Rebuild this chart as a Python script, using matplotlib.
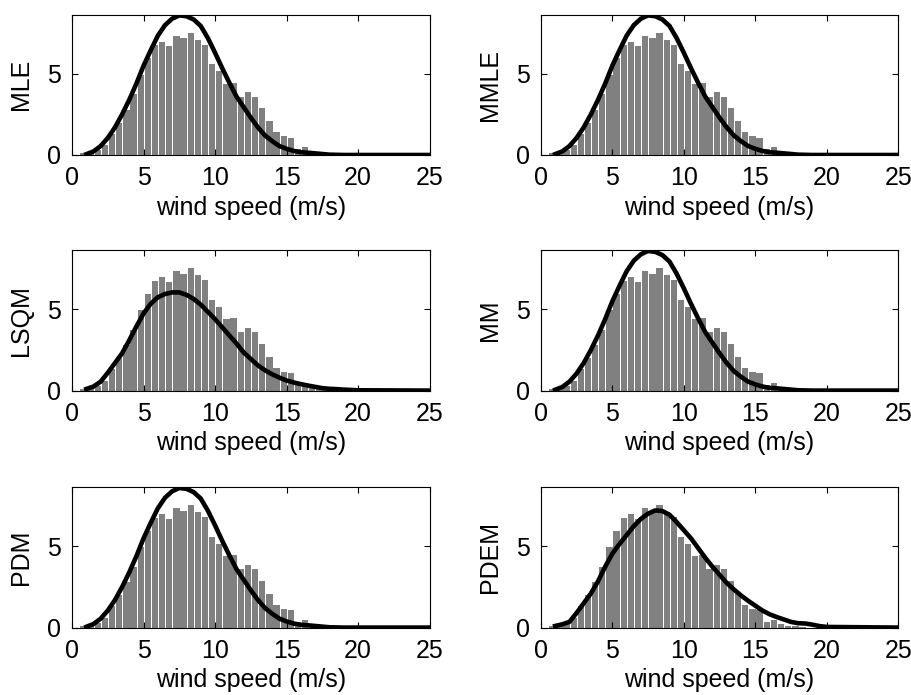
import numpy as np
import matplotlib
matplotlib.use("Agg")
import matplotlib.pyplot as plt

plt.rcParams['font.family'] = ['Liberation Sans', 'DejaVu Sans']

# observed wind speed histogram (same data in every panel), bin width 0.5 m/s
bin_centers = np.arange(0.8, 18.5, 0.5)
hist_vals = [0.1, 0.15, 0.3, 0.6, 1.3, 2.0, 2.8, 3.75, 4.95, 5.95, 6.75, 6.97,
             6.7, 7.35, 7.2, 7.53, 7.1, 6.8, 5.6, 5.15, 4.4, 4.45, 3.6, 3.85,
             3.58, 2.87, 2.08, 1.4, 1.17, 1.07, 0.35, 0.48, 0.2, 0.1, 0.07, 0.04]

# fitted curves, sampled every 0.5 m/s from 1 to 20, plus 25
curve_x = list(np.arange(1, 20.5, 0.5)) + [25]
curve_mle = [0.05, 0.22, 0.55, 1.05, 1.7, 2.5, 3.4, 4.4, 5.5, 6.45, 7.35, 8.0, 8.4,
             8.6, 8.55, 8.35, 7.95, 7.2, 6.3, 5.35, 4.45, 3.6, 2.95, 2.3, 1.7, 1.2,
             0.85, 0.55, 0.38, 0.25, 0.17, 0.14, 0.1, 0.06, 0.02, 0.01, 0, 0, 0, 0]
curve_mmle = [0.05, 0.22, 0.55, 1.05, 1.7, 2.5, 3.4, 4.4, 5.5, 6.45, 7.35, 8.0, 8.4,
              8.6, 8.55, 8.35, 7.95, 7.2, 6.3, 5.35, 4.45, 3.6, 2.95, 2.3, 1.7, 1.2,
              0.85, 0.55, 0.38, 0.25, 0.17, 0.14, 0.1, 0.06, 0.02, 0.01, 0, 0, 0, 0]
curve_lsqm = [0.1, 0.25, 0.55, 1.1, 1.7, 2.3, 3.1, 3.95, 4.75, 5.35, 5.75, 5.95, 6.05,
              6.05, 5.9, 5.65, 5.3, 4.85, 4.4, 3.9, 3.4, 2.9, 2.35, 1.95, 1.55, 1.25,
              1.0, 0.8, 0.62, 0.5, 0.4, 0.31, 0.23, 0.15, 0.11, 0.09, 0.06, 0.04, 0.02, 0]
curve_mm = [0.05, 0.22, 0.55, 1.05, 1.7, 2.5, 3.4, 4.4, 5.5, 6.45, 7.35, 8.0, 8.4,
            8.6, 8.55, 8.35, 7.95, 7.2, 6.3, 5.35, 4.45, 3.6, 2.95, 2.3, 1.7, 1.2,
            0.85, 0.55, 0.38, 0.25, 0.17, 0.14, 0.1, 0.06, 0.02, 0.01, 0, 0, 0, 0]
curve_pdm = [0.05, 0.22, 0.55, 1.05, 1.7, 2.5, 3.4, 4.4, 5.5, 6.45, 7.35, 8.0, 8.4,
             8.6, 8.55, 8.35, 7.95, 7.2, 6.3, 5.35, 4.45, 3.6, 2.95, 2.3, 1.7, 1.2,
             0.85, 0.55, 0.38, 0.25, 0.17, 0.14, 0.1, 0.06, 0.02, 0.01, 0, 0, 0, 0]
curve_pdem = [0.1, 0.2, 0.35, 0.9, 1.5, 2.1, 2.85, 3.75, 4.55, 5.15, 5.7, 6.25, 6.7,
              7.02, 7.22, 7.18, 6.95, 6.5, 6.0, 5.5, 4.9, 4.3, 3.75, 3.25, 2.75, 2.35,
              1.98, 1.65, 1.35, 1.05, 0.82, 0.65, 0.5, 0.35, 0.27, 0.25, 0.18, 0.09, 0.04, 0]

methods = ["MLE", "MMLE", "LSQM", "MM", "PDM", "PDEM"]
curves = [curve_mle, curve_mmle, curve_lsqm, curve_mm, curve_pdm, curve_pdem]

fig = plt.figure(figsize=(9.12, 6.95), dpi=100)

lefts = [0.079, 0.593]
bottoms = [0.777, 0.438, 0.097]
w, h = 0.392, 0.202

for i, (name, cy) in enumerate(zip(methods, curves)):
    ax = fig.add_axes([lefts[i % 2], bottoms[i // 2], w, h])
    ax.bar(bin_centers, hist_vals, width=0.44, color='#808080', linewidth=0)
    ax.plot(curve_x, cy, color='black', linewidth=3.3, solid_joinstyle='round')
    ax.set_xlim(0, 25)
    ax.set_ylim(0, 8.65)
    ax.set_xticks([0, 5, 10, 15, 20, 25])
    ax.set_yticks([0, 5])
    ax.tick_params(direction='in', top=True, right=True, length=4, width=0.8,
                   labelsize=18)
    ax.tick_params(axis='x', pad=8)
    ax.tick_params(axis='y', pad=8)
    ax.set_xlabel("wind speed (m/s)", fontsize=18, labelpad=4)
    ax.set_ylabel(name, fontsize=18, labelpad=10)
    for s in ax.spines.values():
        s.set_linewidth(0.8)

fig.savefig("out.png", dpi=100)
